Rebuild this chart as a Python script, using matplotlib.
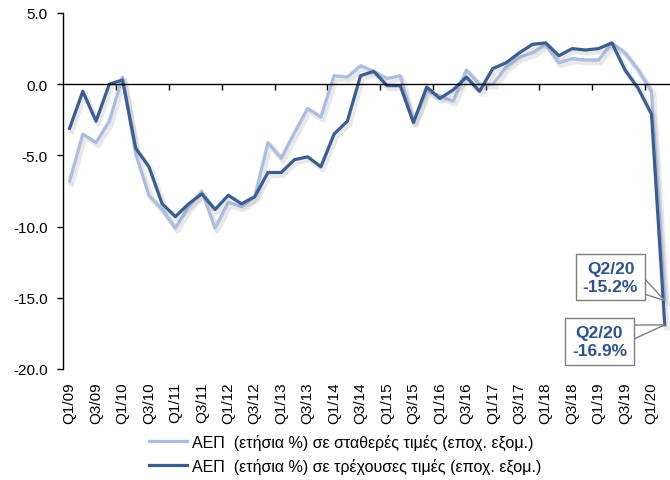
import matplotlib
matplotlib.use('agg')
from matplotlib import pyplot as plt
from matplotlib.lines import Line2D
import matplotlib.patheffects as pe

# quarters Q1/09 .. Q2/20
quarters = ['Q%d/%02d' % (q, y) for y in range(9, 21) for q in range(1, 5)][:46]

# ΑΕΠ σε σταθερές τιμές (ετήσια %)
gdp_const = [-6.8, -3.5, -4.1, -2.6, 0.5, -4.9, -7.8, -8.8, -10.1, -8.6,
             -7.5, -10.1, -8.3, -8.6, -7.9, -4.1, -5.2, -3.4, -1.7, -2.3,
             0.6, 0.5, 1.3, 0.9, 0.4, 0.6, -2.6, -0.5, -0.8, -1.2,
             1.0, 0.0, 0.0, 1.2, 1.9, 2.2, 2.8, 1.5, 1.8, 1.7,
             1.7, 2.9, 2.2, 1.0, -0.5, -15.2]

# ΑΕΠ σε τρέχουσες τιμές (ετήσια %)
gdp_curr = [-3.1, -0.5, -2.6, 0.0, 0.3, -4.5, -5.8, -8.4, -9.3, -8.4,
            -7.7, -8.8, -7.8, -8.4, -7.9, -6.2, -6.2, -5.3, -5.1, -5.8,
            -3.5, -2.6, 0.6, 0.9, -0.1, -0.1, -2.7, -0.2, -1.0, -0.4,
            0.5, -0.5, 1.1, 1.5, 2.2, 2.8, 2.9, 2.0, 2.5, 2.4,
            2.5, 2.9, 1.0, -0.3, -2.1, -16.9]

label_const = 'ΑΕΠ  (ετήσια %) σε σταθερές τιμές (εποχ. εξομ.)'
label_curr = 'ΑΕΠ  (ετήσια %) σε τρέχουσες τιμές (εποχ. εξομ.)'

light = '#A9BEE0'
dark = '#3A5E94'
txt_col = '#2D5291'

plt.rcParams['font.family'] = ['Liberation Sans', 'DejaVu Sans']
plt.rcParams['axes.unicode_minus'] = False

fig = plt.figure(figsize=(6.7, 4.81), dpi=100)
ax = fig.add_axes([0.094, 0.2308, 0.908, 0.7401])

x = list(range(len(quarters)))
shadow = [pe.SimpleLineShadow(offset=(1.5, -2), shadow_color='#909090', alpha=0.2, linewidth=4), pe.Normal()]
ax.plot(x, gdp_const, color=light, lw=2.3, path_effects=shadow)
ax.plot(x, gdp_curr, color=dark, lw=2.3, path_effects=shadow)

ax.set_xlim(-0.5, len(quarters) - 0.5)
ax.set_ylim(-20, 5)
ax.set_yticks([-20, -15, -10, -5, 0, 5])
ax.yaxis.set_major_formatter(matplotlib.ticker.FormatStrFormatter('%.1f'))
ax.tick_params(axis='y', direction='out', length=4, width=1, pad=7, labelsize=11)

for s in ['top', 'right']:
    ax.spines[s].set_visible(False)
ax.spines['bottom'].set_position(('data', 0))
ax.spines['left'].set_linewidth(1)
ax.spines['bottom'].set_linewidth(1)
ax.set_xticks([i + 3.5 for i in range(0, 44, 4)])
ax.tick_params(axis='x', direction='out', length=4, width=1, labelbottom=False)

sec = ax.secondary_xaxis('bottom')
sec.set_xticks(x[::2], quarters[::2])
sec.tick_params(length=0, rotation=90, pad=9, labelsize=11)
sec.spines['bottom'].set_visible(False)

box = dict(boxstyle='square,pad=0.4', fc='white', ec='#7F7F7F', lw=1)
arrow = dict(arrowstyle='wedge,tail_width=0.6,shrink_factor=0.5', mutation_scale=20,
             fc='white', ec='#7F7F7F', lw=1, patchA=None, shrinkA=0, shrinkB=0)
ax.annotate('Q2/20\n%.1f%%' % gdp_const[-1], xy=(x[-1], gdp_const[-1]), xytext=(-39, 17),
            textcoords='offset points', ha='center', va='center', fontsize=12.5, fontweight='bold',
            color=txt_col, bbox=box, arrowprops=dict(arrow, relpos=(1.0, 0.3)), linespacing=1.25)
ax.annotate('Q2/20\n%.1f%%' % gdp_curr[-1], xy=(x[-1], gdp_curr[-1]), xytext=(-47, -12),
            textcoords='offset points', ha='center', va='center', fontsize=12.5, fontweight='bold',
            color=txt_col, bbox=box, arrowprops=dict(arrow, relpos=(1.0, 0.75)), linespacing=1.25)

handles = [Line2D([], [], color=light, lw=2.3), Line2D([], [], color=dark, lw=2.3)]
fig.legend(handles, [label_const, label_curr], loc='center', bbox_to_anchor=(0.515, 0.054), frameon=False,
           fontsize=11.5, handlelength=2.4, handletextpad=0.3, labelspacing=0.5)

fig.savefig('out.png', dpi=100)
